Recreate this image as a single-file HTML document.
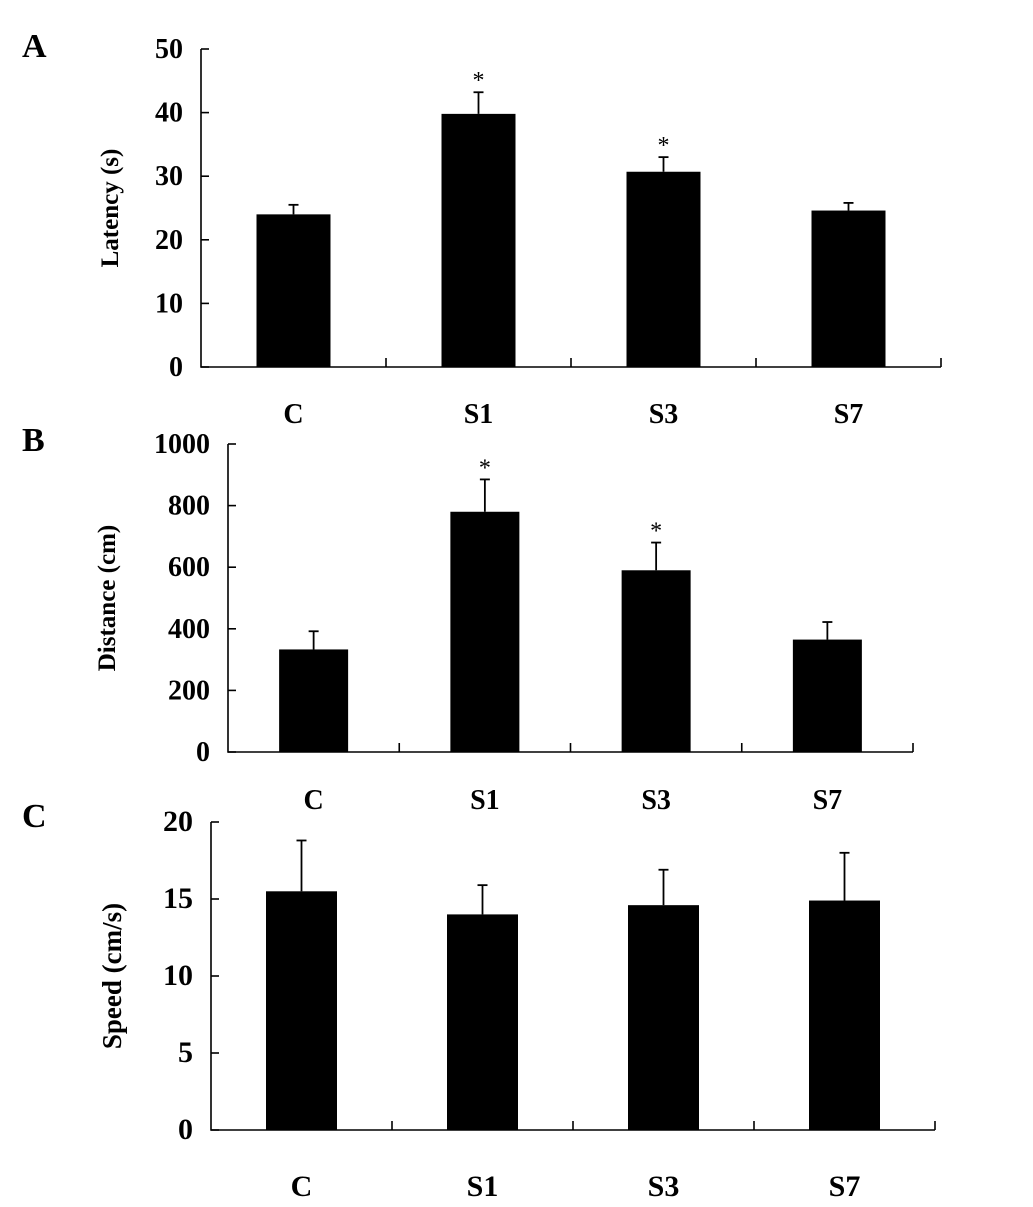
<!DOCTYPE html>
<html><head><meta charset="utf-8"><style>
html,body{margin:0;padding:0;background:#fff;}
svg{display:block;font-family:"Liberation Serif",serif;font-weight:bold;}
</style></head><body>
<svg id="fig" width="1033" height="1207" viewBox="0 0 1033 1207" xmlns="http://www.w3.org/2000/svg">
<text x="22" y="57" font-size="34">A</text>
<text x="22" y="451" font-size="34">B</text>
<text x="22" y="827" font-size="34">C</text>
</svg>
<script>
const categories = ["C","S1","S3","S7"];
const latencyValues = [24, 39.8, 30.7, 24.6];
const latencyErrors = [1.5, 3.4, 2.3, 1.2];
const latencySig = [false, true, true, false];
const latencyTicks = [0,10,20,30,40,50];
const distanceValues = [333, 780, 590, 365];
const distanceErrors = [59, 105, 90, 57];
const distanceSig = [false, true, true, false];
const distanceTicks = [0,200,400,600,800,1000];
const speedValues = [15.5, 14.0, 14.6, 14.9];
const speedErrors = [3.3, 1.9, 2.3, 3.1];
const speedSig = [false, false, false, false];
const speedTicks = [0,5,10,15,20];

const NS = "http://www.w3.org/2000/svg";
const svg = document.getElementById('fig');
function mk(tag, attrs, parent){
  const e = document.createElementNS(NS, tag);
  for (const k in attrs) e.setAttribute(k, attrs[k]);
  (parent||svg).appendChild(e); return e;
}
function panel(key, cfg, vals, errs, sig, ticks, title){
  const g = mk('g', {});
  
  
  const max = ticks[ticks.length-1];
  const y = v => cfg.y0 - (v/max)*(cfg.y0-cfg.yTop);
  const cw = (cfg.x1-cfg.x0)/categories.length;
  const xc = i => cfg.x0 + cw*(i+0.5);
  const axis = mk('path', {d:`M${cfg.x0} ${cfg.yTop}V${cfg.y0}H${cfg.x1}`, stroke:'#000','stroke-width':1.6, fill:'none'}, g);
  
  
  ticks.forEach(t => {
    mk('line', {x1:cfg.x0, x2:cfg.x0+8, y1:y(t), y2:y(t), stroke:'#000','stroke-width':1.6}, g);
    const tl = mk('text', {x:cfg.x0-18, y:y(t)+9, 'font-size':cfg.fs, 'text-anchor':'end'}, g);
    tl.textContent = t;
    
    
  });
  for (let i=1;i<=categories.length;i++){
    const xx = cfg.x0 + cw*i;
    mk('line', {x1:xx, x2:xx, y1:cfg.y0, y2:cfg.y0-9, stroke:'#000','stroke-width':1.6}, g);
  }
  vals.forEach((v,i) => {
    const top = y(v+errs[i]);
    mk('line', {x1:xc(i), x2:xc(i), y1:y(v), y2:top, stroke:'#000','stroke-width':1.8}, g);
    mk('line', {x1:xc(i)-5, x2:xc(i)+5, y1:top, y2:top, stroke:'#000','stroke-width':1.8}, g);
    const b = mk('rect', {x:xc(i)-cfg.bw/2, y:y(v), width:cfg.bw, height:cfg.y0-y(v), fill:'#000'}, g);
    
    
    if (sig[i]) {
      const s = mk('text', {x:xc(i), y:top-4, 'font-size':24, 'font-weight':'normal', 'text-anchor':'middle'}, g);
      s.textContent = '*';
      
      
    }
    const cl = mk('text', {x:xc(i), y:cfg.labY, 'font-size':cfg.cfs, 'text-anchor':'middle'}, g);
    cl.textContent = categories[i];
    
    
  });
  const ty = (cfg.y0+cfg.yTop)/2;
  const tt = mk('text', {x:cfg.titleX, y:ty, 'font-size':cfg.tfs, 'text-anchor':'middle', transform:`rotate(-90 ${cfg.titleX} ${ty})`}, g);
  tt.textContent = title;
  
  
}
panel('latency', {x0:201,x1:941,yTop:49,y0:367,bw:74,fs:28,cfs:28,tfs:25,labY:423,titleX:118}, latencyValues, latencyErrors, latencySig, latencyTicks, 'Latency (s)');
panel('distance', {x0:228,x1:913,yTop:444,y0:752,bw:69,fs:28,cfs:28,tfs:25,labY:809,titleX:115}, distanceValues, distanceErrors, distanceSig, distanceTicks, 'Distance (cm)');
panel('speed', {x0:211,x1:935,yTop:822,y0:1130,bw:71,fs:30,cfs:30,tfs:27,labY:1196,titleX:121}, speedValues, speedErrors, speedSig, speedTicks, 'Speed (cm/s)');
</script>
</body></html>
